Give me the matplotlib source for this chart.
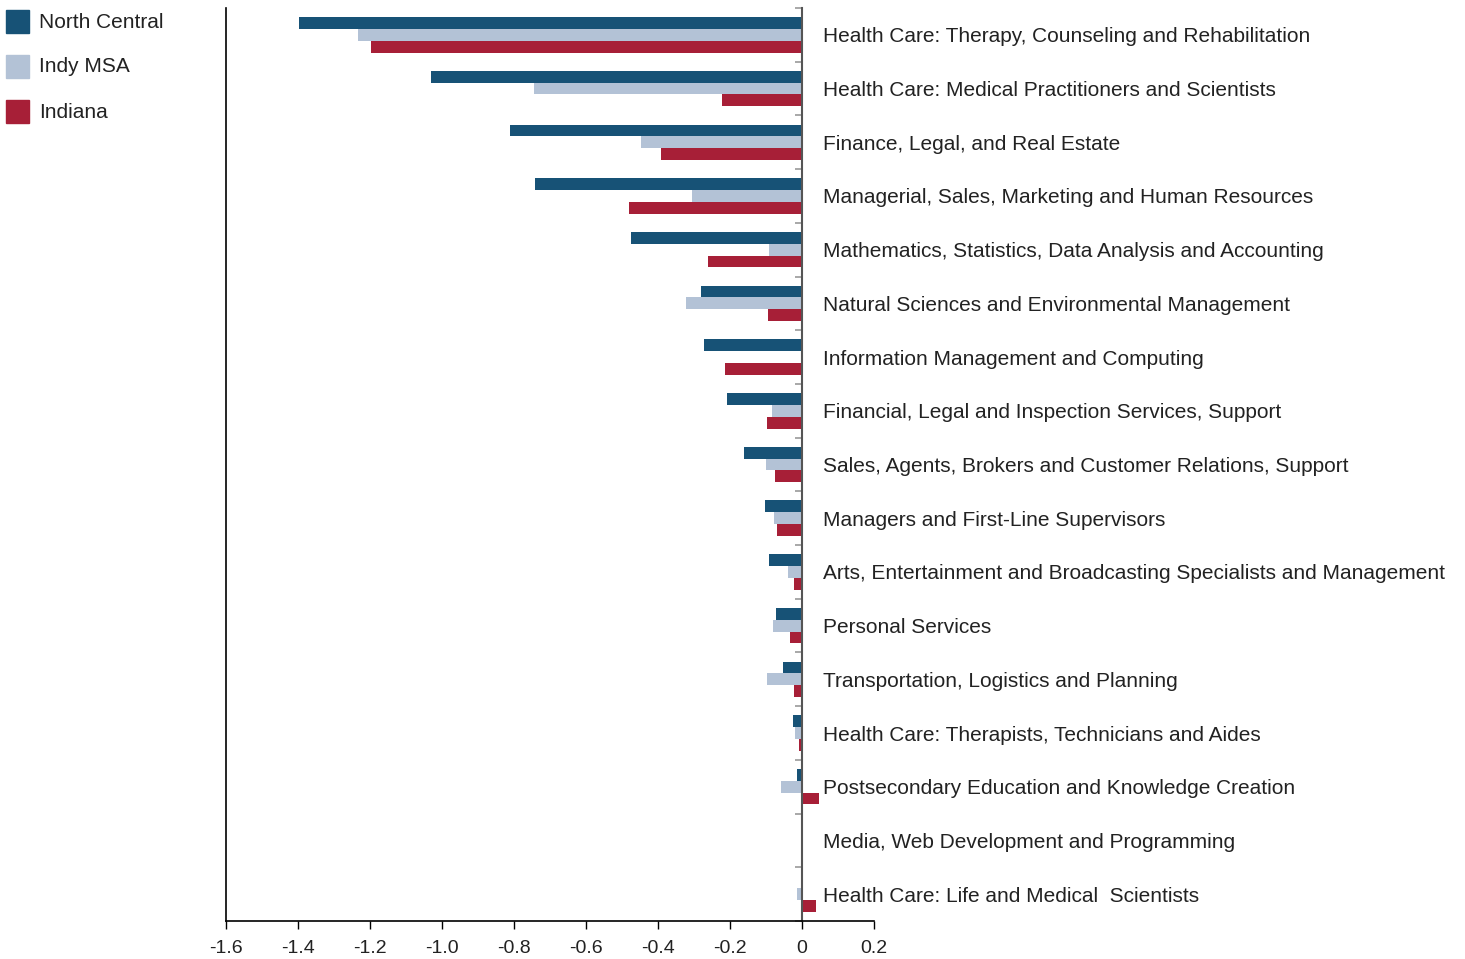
import matplotlib
matplotlib.use("Agg")
import matplotlib.pyplot as plt
import numpy as np
from matplotlib.ticker import FixedLocator, FuncFormatter

categories = [
    "Health Care: Therapy, Counseling and Rehabilitation",
    "Health Care: Medical Practitioners and Scientists",
    "Finance, Legal, and Real Estate",
    "Managerial, Sales, Marketing and Human Resources",
    "Mathematics, Statistics, Data Analysis and Accounting",
    "Natural Sciences and Environmental Management",
    "Information Management and Computing",
    "Financial, Legal and Inspection Services, Support",
    "Sales, Agents, Brokers and Customer Relations, Support",
    "Managers and First-Line Supervisors",
    "Arts, Entertainment and Broadcasting Specialists and Management",
    "Personal Services",
    "Transportation, Logistics and Planning",
    "Health Care: Therapists, Technicians and Aides",
    "Postsecondary Education and Knowledge Creation",
    "Media, Web Development and Programming",
    "Health Care: Life and Medical  Scientists",
]
north_central = [-1.397, -1.031, -0.811, -0.742, -0.475, -0.281, -0.271, -0.207, -0.161,
                 -0.102, -0.092, -0.072, -0.053, -0.026, -0.015, -0.003, -0.002]
indy_msa = [-1.233, -0.744, -0.447, -0.306, -0.092, -0.322, 0.0, -0.083, -0.101,
            -0.079, -0.039, -0.080, -0.096, -0.019, -0.058, 0.0, -0.013]
indiana = [-1.197, -0.222, -0.392, -0.481, -0.261, -0.094, -0.213, -0.097, -0.075,
           -0.069, -0.023, -0.032, -0.023, -0.009, 0.046, -0.002, 0.038]
series_names = ["North Central", "Indy MSA", "Indiana"]
colors = ["#175276", "#b3c2d6", "#a71f37"]
xticks = [-1.6, -1.4, -1.2, -1.0, -0.8, -0.6, -0.4, -0.2, 0, 0.2]

plt.rcParams['font.family'] = ['Liberation Sans', 'DejaVu Sans']
text_color = "#222222"

fig = plt.figure(figsize=(14.65, 9.59), dpi=100)
ax = fig.add_axes([226/1465, 1-921/959, (874-226)/1465, (921-8)/959])

y = np.arange(len(categories))
h = 0.22
for k, (vals, c) in enumerate(zip([north_central, indy_msa, indiana], colors)):
    ax.barh(y + (k-1)*h, vals, height=h, color=c, edgecolor='none')

ax.set_xlim(-1.6, 0.2)
ax.set_ylim(len(categories)-0.5, -0.5)

ax.set_xticks(xticks)
ax.xaxis.set_major_formatter(FuncFormatter(lambda v, p: "0" if abs(v) < 1e-9 else f"{v:.1f}"))
ax.tick_params(axis='x', direction='out', length=6, width=1, colors='black',
               labelsize=14, labelcolor=text_color, pad=8)

ax.spines['top'].set_visible(False)
ax.spines['left'].set_color('black')
ax.spines['left'].set_linewidth(1.2)
ax.spines['bottom'].set_color('black')
ax.spines['bottom'].set_linewidth(1.2)
ax.spines['right'].set_position(('data', 0))
ax.spines['right'].set_color('#555555')
ax.spines['right'].set_linewidth(1.5)

ax.yaxis.tick_right()
ax.yaxis.set_major_locator(FixedLocator(y))
ax.set_yticklabels(categories)
ax.yaxis.set_minor_locator(FixedLocator(np.arange(len(categories)+1) - 0.5))
ax.tick_params(axis='y', which='major', length=0, pad=15, labelsize=15, labelcolor=text_color)
ax.tick_params(axis='y', which='minor', direction='in', length=5, width=1.2, color='#999999')
ax.tick_params(axis='y', which='both', left=False, right=True)

# legend
for i, (name, c) in enumerate(zip(series_names, colors)):
    yc = 21 + i*45
    fig.patches.append(plt.Rectangle((6/1465, 1-(yc+11.5)/959), 23/1465, 23/959,
                                     transform=fig.transFigure, color=c, figure=fig))
    fig.text(39/1465, 1-(yc+1)/959, name, fontsize=15, color=text_color, va='center', ha='left')

fig.savefig("out.png", dpi=100)
